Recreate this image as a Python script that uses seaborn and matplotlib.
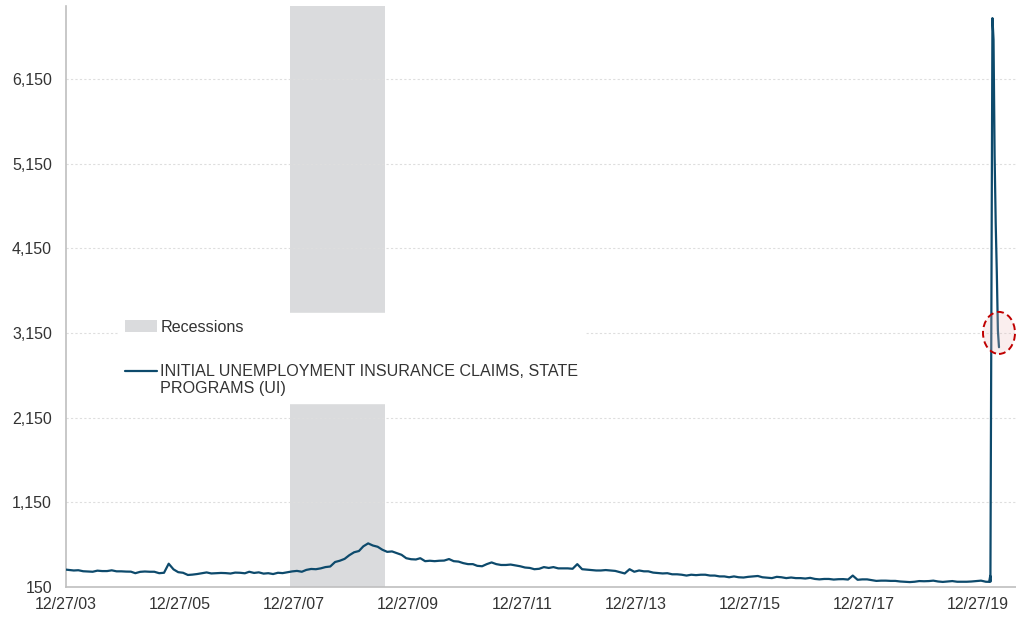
import numpy as np
import pandas as pd
import matplotlib
matplotlib.use("Agg")
import matplotlib.pyplot as plt
from matplotlib.path import Path
from matplotlib.transforms import Affine2D
from matplotlib.patches import Patch
from matplotlib.lines import Line2D
from matplotlib.legend_handler import HandlerLine2D
import seaborn as sns

# ---------------- data (thousands) ----------------
start_date = "2003-12-27"
start_value = 355

monthly_start = "2004-01-15"
monthly_values = [
    # 2004
    345, 348, 336, 333, 330, 343, 338, 338, 347, 335, 335, 332,
    # 2005
    331, 313, 329, 333, 330, 330, 313, 318, 425, 358, 325, 318,
    # 2006
    292, 296, 303, 312, 322, 310, 313, 316, 314, 309, 320, 318,
    # 2007
    312, 330, 316, 323, 308, 313, 303, 318, 314, 324, 334, 340,
    # 2008
    330, 352, 363, 360, 370, 385, 392, 445, 460, 482, 525, 560,
    # 2009
    575, 630, 665, 640, 625, 590, 565, 570, 550, 530, 490, 478,
    # 2010
    475, 490, 455, 460, 455, 460, 462, 480, 455, 450, 432, 420,
    # 2011
    420, 400, 395, 420, 440, 420, 410, 410, 415, 405, 395, 380,
    # 2012
    375, 360, 365, 385, 375, 385, 370, 370, 370, 365, 420, 360,
    # 2013
    355, 350, 345, 345, 350, 345, 340, 325, 310, 360, 330, 345,
    # 2014
    335, 335, 320, 315, 310, 313, 300, 300, 295, 285, 295, 290,
    # 2015
    295, 295, 285, 285, 275, 275, 265, 275, 265, 262, 270, 275,
    # 2016
    280, 265, 260, 255, 270, 265, 255, 262, 255, 255, 250, 258,
    # 2017
    245, 240, 245, 245, 238, 242, 243, 238, 285, 235, 240, 240,
    # 2018
    230, 222, 225, 225, 222, 222, 215, 212, 208, 212, 220, 218,
    # 2019
    220, 225, 215, 210, 215, 220, 212, 212, 212, 215, 220, 225,
    # 2020
    212, 212,
]

weekly_2020_dates = ["2020-03-07", "2020-03-14", "2020-03-21", "2020-03-28",
                     "2020-04-04", "2020-04-11", "2020-04-18", "2020-04-25",
                     "2020-05-02", "2020-05-09"]
weekly_2020_values = [211, 282, 3307, 6867, 6615, 5237, 4442, 3867, 3176, 2981]

recession_start = "2007-12-01"
recession_end = "2009-07-31"

highlight_value = 3150

y_ticks = [150, 1150, 2150, 3150, 4150, 5150, 6150]
x_tick_dates = ["2003-12-27", "2005-12-27", "2007-12-27", "2009-12-27",
                "2011-12-27", "2013-12-27", "2015-12-27", "2017-12-27",
                "2019-12-27"]

series_label = "INITIAL UNEMPLOYMENT INSURANCE CLAIMS, STATE\nPROGRAMS (UI)"
recession_label = "Recessions"

# ---------------- build frame ----------------
dates = ([pd.Timestamp(start_date)]
         + list(pd.date_range(monthly_start, periods=len(monthly_values), freq="MS") + pd.Timedelta(days=14))
         + list(pd.to_datetime(weekly_2020_dates)))
values = [start_value] + monthly_values + weekly_2020_values
df = pd.DataFrame({"date": dates, "claims": values})

# ---------------- style ----------------
sns.set_style("white")
plt.rcParams["font.family"] = ["Liberation Sans", "DejaVu Sans"]

line_color = "#0d4a6c"
rec_color = "#dadbdd"
axis_color = "#bfbfbf"
text_color = "#333333"

fig = plt.figure(figsize=(10.16, 6.17), dpi=100)
ax = fig.add_axes([66 / 1016, 30 / 617, 950 / 1016, 581 / 617])

ax.axvspan(pd.Timestamp(recession_start), pd.Timestamp(recession_end),
           color=rec_color, lw=0, zorder=0)

sns.lineplot(data=df, x="date", y="claims", ax=ax, color=line_color,
             lw=1.6, zorder=3, legend=False)

# highlight ellipse around last point
ell = Path.unit_circle().transformed(Affine2D().scale(32 / 42, 1.0))
ax.scatter([df["date"].iloc[-1]], [highlight_value], marker=ell, s=(42 * 0.72) ** 2,
           facecolor=(0.93, 0.75, 0.75, 0.25), edgecolor="#c00000",
           linewidths=1.4, linestyle=(0, (3.5, 2.0)), zorder=4)

# axes limits & ticks
ax.set_xlim(pd.Timestamp("2003-12-27"), pd.Timestamp("2020-08-26"))
ax.set_ylim(150, 7010)
ax.set_yticks(y_ticks)
ax.set_yticklabels([f"{v:,}" for v in y_ticks])
xt = pd.to_datetime(x_tick_dates)
ax.set_xticks(xt)
ax.set_xticklabels([d.strftime("%m/%d/%y") for d in xt])
ax.set_xlabel("")
ax.set_ylabel("")

ax.tick_params(axis="both", which="both", length=4, width=1, color=axis_color,
               labelsize=11.5, labelcolor=text_color, direction="out")
ax.tick_params(axis="y", pad=6)
ax.tick_params(axis="x", pad=3)

for s in ["top", "right"]:
    ax.spines[s].set_visible(False)
for s in ["left", "bottom"]:
    ax.spines[s].set_color(axis_color)
    ax.spines[s].set_linewidth(1.2)

ax.grid(False)
for v in y_ticks[1:]:
    ax.axhline(v, color="#dedede", lw=0.8, ls=(0, (2, 2)), zorder=1)


class TopLineHandler(HandlerLine2D):
    """Line handle aligned with the first line of a two-line label."""
    def create_artists(self, legend, orig_handle, xdescent, ydescent,
                       width, height, fontsize, trans):
        artists = super().create_artists(legend, orig_handle, xdescent, ydescent,
                                         width, height, fontsize, trans)
        for a in artists:
            if isinstance(a, Line2D):
                a.set_ydata(np.asarray(a.get_ydata(), dtype=float) + 0.6 * fontsize)
        return artists


line_handle = Line2D([0], [0], color=line_color, lw=1.6, label=series_label)
handles = [Patch(facecolor=rec_color, edgecolor="none", label=recession_label),
           line_handle]
leg = ax.legend(handles=handles, loc="upper left",
                bbox_to_anchor=(52 / 950, 274 / 581), bbox_transform=ax.transAxes,
                frameon=True, fancybox=False, framealpha=1, facecolor="white",
                edgecolor="white", borderpad=0.42, borderaxespad=0,
                handlelength=2.0, handletextpad=0.2, labelspacing=1.8,
                fontsize=11.6, labelcolor=text_color,
                handler_map={line_handle: TopLineHandler()})
for t in leg.get_texts():
    t.set_linespacing(1.2)
leg.set_zorder(5)

fig.savefig("out.png", dpi=100, facecolor="white")
